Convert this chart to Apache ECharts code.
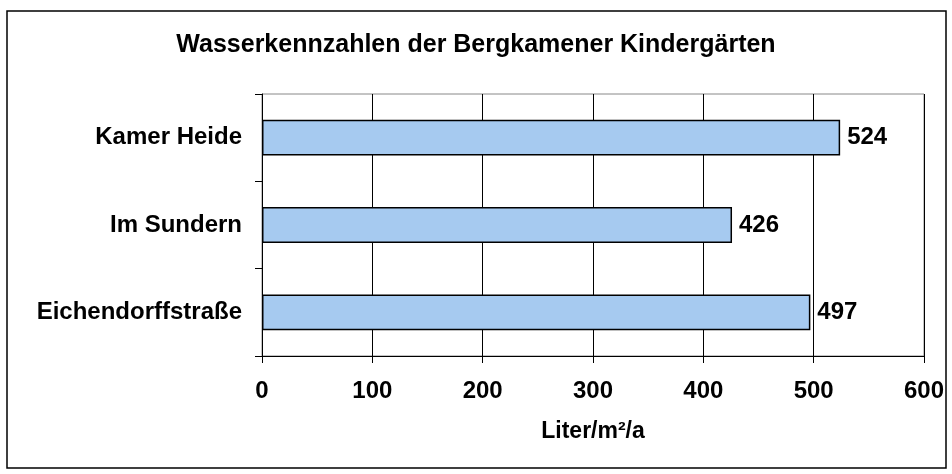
<!DOCTYPE html>
<html><head><meta charset="utf-8">
<script src="https://cdn.jsdelivr.net/npm/echarts@6/dist/echarts.min.js"></script>
<style>html,body{margin:0;padding:0;background:#fff}#c{width:952px;height:474px}</style>
</head><body><div id="c"></div>
<script>
var categories = ['Eichendorffstraße', 'Im Sundern', 'Kamer Heide'];
var values = [497, 426, 524];
var xTicks = [0, 100, 200, 300, 400, 500, 600];
var titleText = 'Wasserkennzahlen der Bergkamener Kindergärten';
var axisTitle = 'Liter/m²/a';

var F = 'Liberation Sans, Arial, sans-serif';
var chart = echarts.init(document.getElementById('c'), null, {renderer: 'canvas'});
chart.setOption({
  animation: false,
  backgroundColor: '#fff',
  graphic: [{type: 'rect', shape: {x: 7, y: 11, width: 939, height: 457}, style: {fill: 'none', stroke: '#000', lineWidth: 1.5}, z: 0}],
  title: {text: titleText, left: 'center', top: 28, textStyle: {fontFamily: F, fontSize: 25, fontWeight: 'bold', color: '#000'}},
  grid: {left: 262, right: 28, top: 94, bottom: 118, show: true, borderColor: '#888', borderWidth: 1, backgroundColor: '#fff'},
  xAxis: {
    type: 'value', min: xTicks[0], max: xTicks[xTicks.length - 1], interval: 100,
    name: axisTitle, nameLocation: 'middle', nameGap: 64,
    nameTextStyle: {fontFamily: F, fontSize: 23, fontWeight: 'bold', color: '#000'},
    axisLine: {show: true, lineStyle: {color: '#000', width: 1}},
    axisTick: {show: true, length: 7, lineStyle: {color: '#000'}},
    axisLabel: {fontFamily: F, fontSize: 24, fontWeight: 'bold', color: '#000', margin: 23},
    splitLine: {show: true, lineStyle: {color: '#000', width: 1}}
  },
  yAxis: {
    type: 'category', data: categories, boundaryGap: true,
    axisLine: {show: true, lineStyle: {color: '#000', width: 1}},
    axisTick: {show: true, length: 7, inside: false, lineStyle: {color: '#000'}},
    axisLabel: {fontFamily: F, fontSize: 24, fontWeight: 'bold', color: '#000', margin: 20}
  },
  series: [{
    type: 'bar', data: values, barCategoryGap: '59%',
    itemStyle: {color: '#A6CAF0', borderColor: '#000', borderWidth: 1.5},
    label: {show: true, position: 'right', distance: 7, fontFamily: F, fontSize: 24, fontWeight: 'bold', color: '#000'}
  }]
});
</script></body></html>
